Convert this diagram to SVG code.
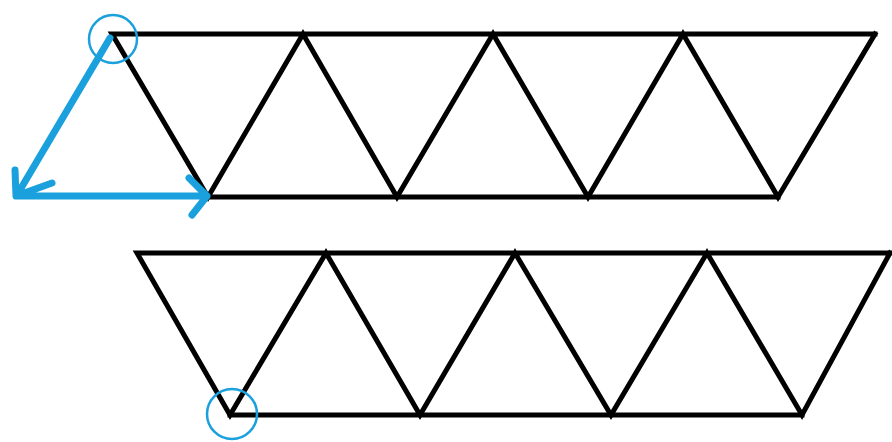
<svg xmlns="http://www.w3.org/2000/svg" width="892" height="442" viewBox="0 0 892 442">
<style>
.k{fill:none;stroke:#000;stroke-width:5;stroke-linejoin:miter;stroke-linecap:square}
.b{fill:none;stroke:#1aa0dc;stroke-width:7;stroke-linecap:round;stroke-linejoin:round}
.c{fill:none;stroke:#1aa0dc;stroke-width:2.5}
</style>
<rect width="892" height="442" fill="#fff"/>
<g id="strip-top">
<polyline class="k" points="875,34 112,34 208,197 303,34 397,197 493,34 588,197 683,34 778,197 875,34"/>
<line class="k" x1="208" y1="197" x2="778" y2="197"/>
</g>
<g id="strip-bottom">
<polyline class="k" points="890,253 137,253 230,415 326,253 420,415 515,253 611,415 707,253 802,415 890,253"/>
<line class="k" x1="230" y1="415" x2="802" y2="415"/>
</g>
<g id="connectors">
<path class="b" d="M110,38 L17,195 M15,170 L16,196 L52,183 M17,196 L207,196 M189,178 L207,196 L192,215"/>
</g>
<g id="markers">
<circle class="c" cx="113" cy="39" r="24"/>
<circle class="c" cx="232" cy="414" r="25"/>
</g>
</svg>
